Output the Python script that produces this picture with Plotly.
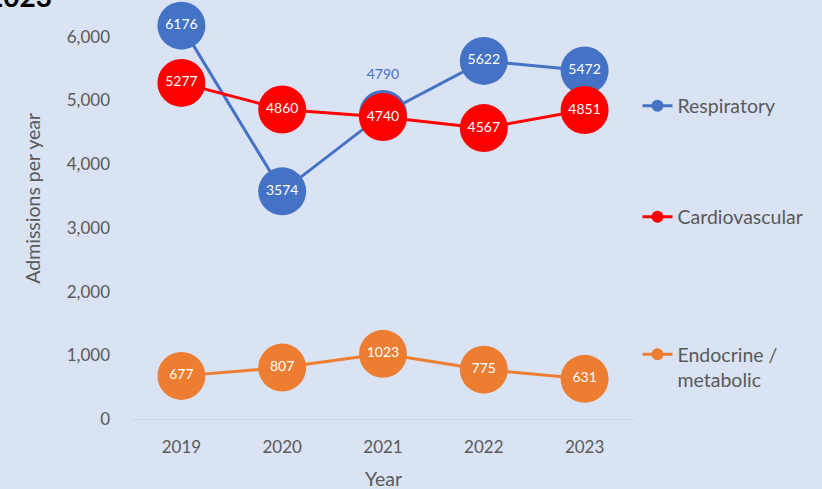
import plotly.graph_objects as go

years = ["2019", "2020", "2021", "2022", "2023"]
respiratory = [6176, 3574, 4790, 5622, 5472]
cardiovascular = [5277, 4860, 4740, 4567, 4851]
endocrine = [677, 807, 1023, 775, 631]
y_ticks = [0, 1000, 2000, 3000, 4000, 5000, 6000]
y_ticklabels = ["0", "1,000", "2,000", "3,000", "4,000", "5,000", "6,000"]

BLUE = "#4472C4"
RED = "#FF0000"
ORANGE = "#ED7D31"
BG = "#DAE3F3"
GREY = "#595959"
FONT = "Lato"

fig = go.Figure()

resp_pos = ["middle center", "middle center", "top center", "middle center", "middle center"]
resp_col = ["white", "white", BLUE, "white", "white"]

def add_series(name, vals, color, legend, textpos="middle center", textcol="white"):
    fig.add_trace(go.Scatter(
        x=years, y=vals, mode="lines+markers+text",
        line=dict(color=color, width=3),
        marker=dict(size=48, color=color),
        text=[str(v) for v in vals], textposition=textpos,
        textfont=dict(color=textcol, size=14, family=FONT),
        showlegend=False, hoverinfo="skip", cliponaxis=False,
    ))
    fig.add_trace(go.Scatter(
        x=[None], y=[None], mode="lines+markers", name=name,
        line=dict(color=color, width=3), marker=dict(size=12, color=color),
        legend=legend, showlegend=True,
    ))

add_series("Respiratory", respiratory, BLUE, "legend", resp_pos, resp_col)
add_series("Cardiovascular", cardiovascular, RED, "legend2")
add_series("Endocrine /<br>metabolic", endocrine, ORANGE, "legend3")

L, R, T, B = 130.5, 186.5, 5, 70
W, H = 822, 489
pw = W - L - R
ph = H - T - B

def px_x(px):
    return (px - L) / pw

def px_y(py):
    return (H - B - py) / ph

legend_common = dict(
    bgcolor="rgba(0,0,0,0)", font=dict(family=FONT, size=19.5, color=GREY),
    xanchor="left", yanchor="middle", valign="top", itemclick=False,
)

fig.update_layout(
    width=W, height=H,
    margin=dict(l=L, r=R, t=T, b=B),
    paper_bgcolor=BG, plot_bgcolor=BG,
    font=dict(family=FONT, color=GREY, size=17),
    xaxis=dict(
        type="category", range=[-0.5, 4.5], showgrid=False, showline=True,
        linecolor="#D0D5DD", linewidth=1, ticks="", zeroline=False,
        tickfont=dict(size=17, color=GREY, family=FONT), ticklabelstandoff=13,
    ),
    yaxis=dict(
        range=[0, 6500], showgrid=False, zeroline=False, showline=False,
        tickvals=y_ticks, ticktext=y_ticklabels, ticks="",
        tickfont=dict(size=17, color=GREY, family=FONT), ticklabelstandoff=20,
    ),
    legend=dict(x=px_x(638), y=px_y(106), **legend_common),
    legend2=dict(x=px_x(638), y=px_y(217), **legend_common),
    legend3=dict(x=px_x(638), y=px_y(367), **legend_common),
    annotations=[
        dict(text="Admissions per year", xref="paper", yref="paper",
             x=px_x(32), y=px_y(198), textangle=-90, showarrow=False,
             font=dict(size=19.5, color=GREY, family=FONT), xanchor="center", yanchor="middle"),
        dict(text="Year", xref="paper", yref="paper",
             x=px_x(383), y=px_y(478), showarrow=False,
             font=dict(size=19.5, color=GREY, family=FONT), xanchor="center", yanchor="middle"),
        dict(text="<b>Hospital admissions by cause, 2019–2023</b>", xref="paper", yref="paper",
             x=px_x(53), y=px_y(15), showarrow=False, xanchor="right", yanchor="bottom",
             font=dict(size=28, color="#000000", family=FONT)),
    ],
)

fig.write_html(
    "out.html",
    config={"displayModeBar": False},
    post_script="document.body.style.margin='0';document.body.style.background='#DAE3F3';document.body.style.overflow='hidden';",
)
